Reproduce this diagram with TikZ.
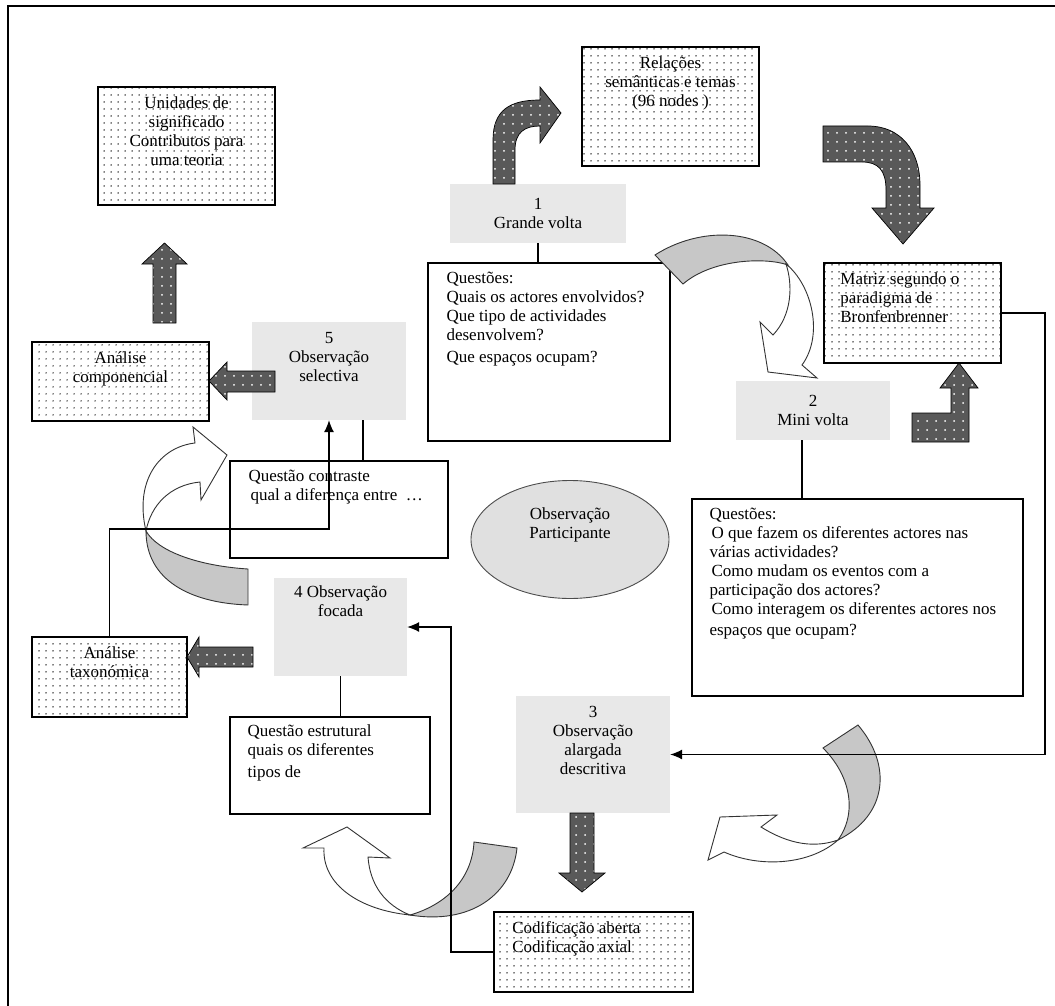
\documentclass[tikz,border=0pt]{standalone}
\usepackage{fontspec}
\setmainfont{Liberation Serif}
\usetikzlibrary{positioning,shapes.geometric,patterns.meta,arrows.meta}

\newcommand\boxfont{\fontsize{17}{19}\selectfont}

\tikzset{
  dotbox/.style={draw, line width=1.6pt, preaction={fill=white},
    pattern={Dots[distance=6.5pt,radius=0.8pt]}, pattern color=black, inner sep=0pt},
  greybox/.style={fill=black!9, inner sep=0pt, align=center, font=\boxfont},
  qbox/.style={draw, line width=1.3pt, fill=white},
  txt/.style={inner sep=0pt, font=\boxfont, align=center},
  txtl/.style={inner sep=0pt, font=\boxfont, align=left},
  darkarrow/.style={draw=black, line width=0.7pt, preaction={fill=black!65},
    pattern={Dots[distance=9pt,radius=1pt]}, pattern color=white},
  ribbon/.style={draw=black!80, line width=0.9pt, fill=white},
  ribbonback/.style={draw=black!80, line width=0.9pt, fill=black!22},
  conn/.style={line width=1.1pt},
  connarrow/.style={conn, -{Latex[length=12pt,width=10pt]}}
}

\begin{document}
\begin{tikzpicture}[x=1pt, y=-1pt]
  \useasboundingbox (0,0) rectangle (1055,1006);
  % frame
  \draw[line width=2pt] (8,1006) -- (8,6) -- (1055,6);

  % dotted result boxes
  \node[dotbox, minimum width=177pt, minimum height=118pt] (unid) at (186.5,146) {};
  \node[txt, below=10pt of unid.north] (unidtxt) {Unidades de\\significado\\Contributos para\\uma teoria};
  \node[dotbox, minimum width=177pt, minimum height=119pt] (rel) at (670.5,106.5) {};
  \node[txt, below=10pt of rel.north] (reltxt) {Relações\\semânticas e temas\\(96 nodes )};
  \node[dotbox, minimum width=177pt, minimum height=100pt] (matriz) at (912.5,313) {};
  \node[txtl, anchor=north west] (matriztxt) at ([shift={(17pt,-10pt)}]matriz.north west) {Matriz segundo o\\paradigma de\\Bronfenbrenner};
  \node[dotbox, minimum width=177pt, minimum height=79pt] (ancomp) at (120.5,381.5) {};
  \node[txt, below=10pt of ancomp.north] (ancomptxt) {Análise\\componencial};
  \node[dotbox, minimum width=155pt, minimum height=80pt] (antax) at (109.5,677) {};
  \node[txt, below=10pt of antax.north] (antaxtxt) {Análise\\taxonómica};
  \node[dotbox, minimum width=199pt, minimum height=80pt] (cod) at (593.5,952) {};
  \node[txtl, anchor=north west] (codtxt) at ([shift={(19pt,-10pt)}]cod.north west) {Codificação aberta\\Codificação axial};

  % observation stages
  \node[greybox, minimum width=176pt, minimum height=59pt] (g1) at (538,213.5) {1\\Grande volta};
  \node[greybox, minimum width=154pt, minimum height=59pt] (g2) at (813,410.5) {2\\Mini volta};
  \node[greybox, minimum width=154pt, minimum height=98pt] (g5) at (329,371) {};
  \node[txt, below=10pt of g5.north] (g5txt) {5\\Observação\\selectiva};
  \node[greybox, minimum width=133pt, minimum height=98pt] (g4) at (340.5,627) {};
  \node[txt, below=8pt of g4.north] (g4txt) {4 Observação\\focada};
  \node[greybox, minimum width=154pt, minimum height=117pt] (g3) at (593,754.5) {};
  \node[txt, below=10pt of g3.north] (g3txt) {3\\Observação\\alargada\\descritiva};

  % question boxes
  \node[qbox, minimum width=242pt, minimum height=178pt] (q1) at (549,352) {};
  \node[txtl, anchor=north west] (q1txt) at ([shift={(19pt,-9.5pt)}]q1.north west)
    {Questões:\\Quais os actores envolvidos?\\Que tipo de actividades\\desenvolvem?\\[3pt]Que espaços ocupam?};
  \node[qbox, minimum width=331pt, minimum height=197pt] (q2) at (857.5,597.5) {};
  \node[txtl, anchor=north west] (q2txt) at ([shift={(18pt,-9.5pt)}]q2.north west)
    {Questões:\\\hspace{2pt}O que fazem os diferentes actores nas\\várias actividades?\\\hspace{2pt}Como mudam os eventos com a\\participação dos actores?\\\hspace{2pt}Como interagem os diferentes actores nos\\[2pt]espaços que ocupam?};
  \node[qbox, minimum width=218pt, minimum height=97pt] (q5) at (339,509.5) {};
  \node[txtl, anchor=north west] (q5txt) at ([shift={(19pt,-9.5pt)}]q5.north west)
    {Questão contraste\\\hspace{2pt}qual a diferença entre \ …};
  \node[qbox, minimum width=200pt, minimum height=97pt] (q4) at (330,765.5) {};
  \node[txtl, anchor=north west] (q4txt) at ([shift={(18pt,-8.5pt)}]q4.north west)
    {Questão estrutural\\quais os diferentes\\[3pt]tipos de};

  % centre
  \node[ellipse, draw=black!70, line width=0.9pt, fill=black!12, minimum width=198pt, minimum height=118pt, inner sep=0pt] (obspart) at (570,539.5) {};
  \node[txt] (obsparttxt) at (570,525) {Observação\\Participante};

  % dark block arrows
  \draw[darkarrow] (153,323) -- (153,264) -- (142,264) -- (164.5,243) -- (187,264) -- (176,264) -- (176,323) -- cycle;
  \draw[darkarrow] (493,184) -- (493,140) .. controls (493,110) and (510,100) .. (540,100) -- (540,87) -- (561,113)
    -- (540,143) -- (540,126) .. controls (525,126) and (515,132) .. (515,150) -- (515,184) -- cycle;
  \draw[darkarrow] (823,126) -- (868,126) .. controls (900,126) and (920,150) .. (920,185) -- (920,208) -- (934,208)
    -- (903,244) -- (872,208) -- (886,208) -- (886,190) .. controls (886,170) and (878,162) .. (862,162) -- (823,162) -- cycle;
  \draw[darkarrow] (912,413) -- (951,413) -- (951,388) -- (940,388) -- (959,363) -- (978,388) -- (969,388) -- (969,442) -- (912,442) -- cycle;
  \draw[darkarrow] (275,371) -- (227,371) -- (227,362) -- (209,381) -- (227,400) -- (227,392) -- (275,392) -- cycle;
  \draw[darkarrow] (253,647) -- (199,647) -- (199,637) -- (187,657) -- (199,677) -- (199,667) -- (253,667) -- cycle;
  \draw[darkarrow] (570,813) -- (570,873) -- (559,873) -- (582,892) -- (605,873) -- (594,873) -- (594,813) -- cycle;

  % twisted ribbons
  \draw[ribbonback] (655,255) .. controls (700,226) and (763,228) .. (788,265) .. controls (765,257) and (712,259) .. (683,284) -- cycle;
  \draw[ribbon] (786,264) .. controls (812,285) and (824,335) .. (802,365) -- (817,378) -- (768,372) -- (760,322)
    -- (773,335) .. controls (792,315) and (793,285) .. (786,264) -- cycle;
  \draw[ribbonback] (248,605) .. controls (190,603) and (146,580) .. (146,531) .. controls (158,552) and (200,566) .. (248,569) -- cycle;
  \draw[ribbon] (146,531) .. controls (134,480) and (160,447) .. (195,443) -- (193,427) -- (227,455) -- (201,500)
    -- (200,482) .. controls (170,485) and (151,505) .. (146,531) -- cycle;
  \draw[ribbonback] (474,842) -- (517,848) .. controls (512,895) and (470,925) .. (410,915) .. controls (445,905) and (472,880) .. (474,842) -- cycle;
  \draw[ribbon] (410,915) .. controls (360,910) and (322,885) .. (324,848) -- (303,848) -- (347,827) -- (390,858)
    -- (368,857) .. controls (370,885) and (385,905) .. (410,915) -- cycle;
  \draw[ribbonback] (823,748) -- (858,725) .. controls (892,765) and (888,815) .. (838,840) .. controls (858,812) and (850,775) .. (823,748) -- cycle;
  \draw[ribbon] (838,840) .. controls (810,865) and (760,868) .. (724,852) -- (708,860) -- (720,817) -- (777,815)
    -- (761,827) .. controls (790,845) and (815,848) .. (838,840) -- cycle;

  % connectors
  \draw[conn] (g1.south) -- (g1.south |- q1.north);
  \draw[conn] ([xshift=-11pt]g2.south) -- ([xshift=-11pt]g2.south |- q2.north);
  \draw[conn] ([xshift=34pt]g5.south) -- ([xshift=34pt]g5.south |- q5.north);
  \draw[conn] (g4.south) -- (g4.south |- q4.north);
  \coordinate (rturn) at (1045,313);
  \draw[connarrow] (matriz.east) -- (rturn) |- (g3.east);
  \coordinate (lturn) at (451,952);
  \draw[connarrow] (cod.west) -- (lturn) |- (g4.east);
  \coordinate (mturn) at (109.5,529);
  \draw[connarrow] (antax.north) -- (mturn) -| (g5.south);
\end{tikzpicture}
\end{document}
